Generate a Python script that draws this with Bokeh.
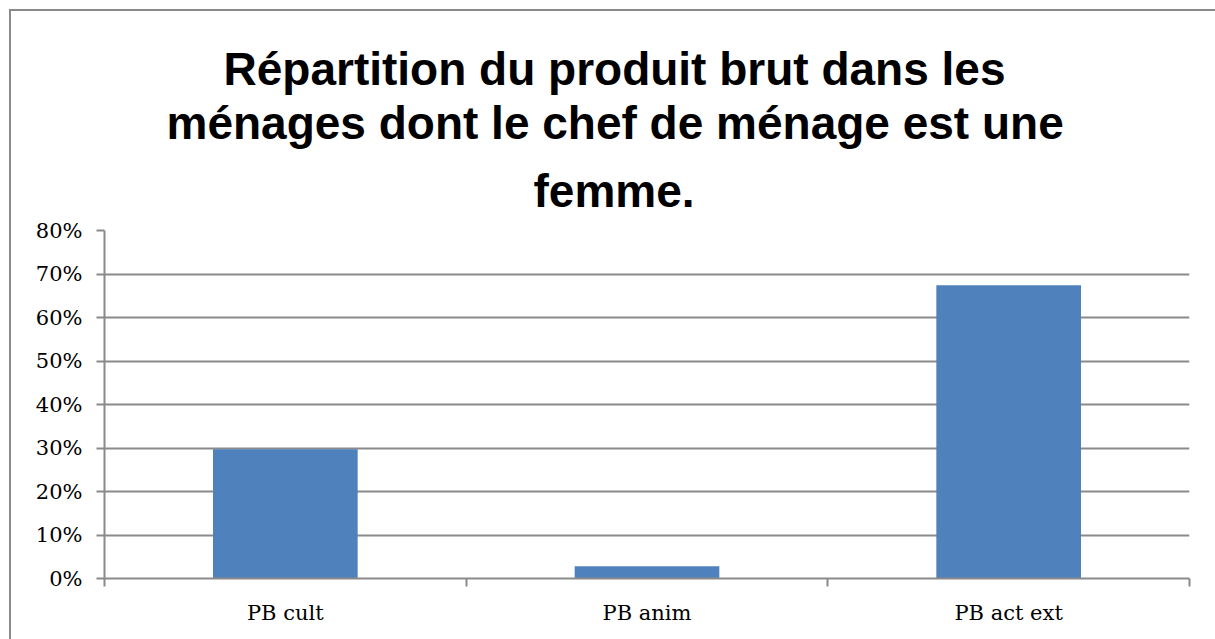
from bokeh.plotting import figure
from bokeh.models import FixedTicker, NumeralTickFormatter, Range1d, Title, ColumnDataSource
from bokeh.embed import file_html
from bokeh.resources import INLINE

categories = ["PB cult", "PB anim", "PB act ext"]
values = [0.297, 0.028, 0.674]
y_ticks = [0.0, 0.1, 0.2, 0.3, 0.4, 0.5, 0.6, 0.7, 0.8]
title_lines = ["Répartition du produit brut dans les",
               "ménages dont le chef de ménage est une",
               "femme."]
title_offsets = [119, 62, 429]
title_standoffs = [0, 0, 28]

xpos = [i + 0.5 for i in range(len(categories))]
src = ColumnDataSource(dict(x=xpos, top=values, cat=categories))

p = figure(width=1206, height=630, output_backend="svg", toolbar_location=None,
           x_range=Range1d(0, 3), y_range=Range1d(0, 0.8),
           min_border_left=93, min_border_right=28, min_border_bottom=63,
           min_border_top=219)
p.title = None

n = len(title_lines)
for i in reversed(range(n)):
    t = Title(text=title_lines[i], align="left", text_font="Liberation Sans",
              text_font_style="bold", text_font_size="46px", text_color="black",
              offset=title_offsets[i], standoff=title_standoffs[i],
              text_line_height=1.17)
    p.add_layout(t, "above")

p.vbar(x="x", top="top", width=0.4, source=src, fill_color="#4F81BD", line_color=None)

p.outline_line_color = None
p.background_fill_color = "white"
p.border_fill_color = "white"
p.styles = {"border-left": "2px solid #8a8a8a", "border-top": "2px solid #8a8a8a",
            "margin-left": "9px", "margin-top": "9px"}

# x axis
xa = p.xaxis[0]
xa.ticker = FixedTicker(ticks=xpos, minor_ticks=[0, 1, 2, 3])
xa.major_label_overrides = {x: c for x, c in zip(xpos, categories)}
xa.major_tick_out = 0
xa.major_tick_in = 0
xa.minor_tick_out = 8
xa.minor_tick_in = 0
xa.minor_tick_line_color = "#8a8a8a"
xa.minor_tick_line_width = 2
xa.axis_line_color = "#8a8a8a"
xa.axis_line_width = 2
xa.major_label_text_font = "DejaVu Serif"
xa.major_label_text_font_size = "21px"
xa.major_label_text_color = "black"
xa.major_label_standoff = 14

# y axis
ya = p.yaxis[0]
ya.ticker = FixedTicker(ticks=y_ticks, minor_ticks=[])
ya.formatter = NumeralTickFormatter(format="0%")
ya.major_tick_out = 8
ya.major_tick_in = 0
ya.major_tick_line_color = "#8a8a8a"
ya.major_tick_line_width = 2
ya.axis_line_color = "#8a8a8a"
ya.axis_line_width = 2
ya.major_label_text_font = "DejaVu Serif"
ya.major_label_text_font_size = "21px"
ya.major_label_text_color = "black"
ya.major_label_standoff = 14

p.xgrid.visible = False
p.ygrid.grid_line_color = "#8a8a8a"
p.ygrid.grid_line_width = 2
p.ygrid.ticker = FixedTicker(ticks=y_ticks)

open("out.html", "w").write(file_html(p, INLINE))
